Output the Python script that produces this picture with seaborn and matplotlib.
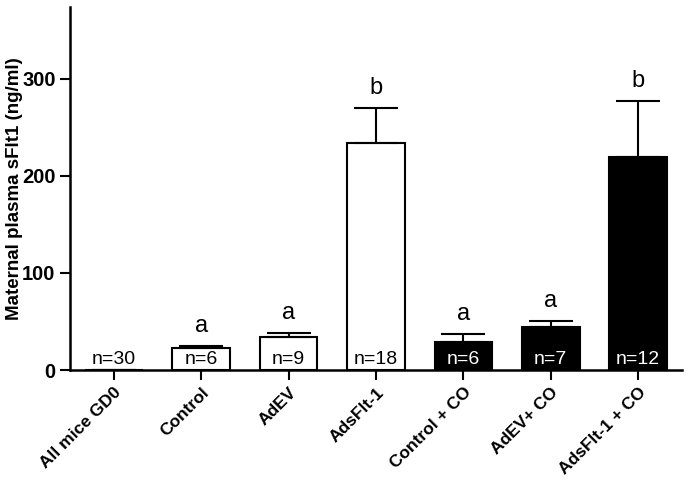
import numpy as np
import pandas as pd
from matplotlib import pyplot as plt
import seaborn as sns

groups = ['All mice GD0', 'Control', 'AdEV', 'AdsFlt-1',
          'Control + CO', 'AdEV+ CO', 'AdsFlt-1 + CO']
means = [0.5, 22.5, 34, 234, 29, 44, 219]
sems = [0, 2.5, 4, 36, 8, 7, 58]
nLabels = ['n=30', 'n=6', 'n=9', 'n=18', 'n=6', 'n=7', 'n=12']
letters = ['', 'a', 'a', 'b', 'a', 'a', 'b']
fills = ['white', 'white', 'white', 'white', 'black', 'black', 'black']

sns.set_style('ticks')
plt.rcParams['font.family'] = ['Liberation Sans', 'DejaVu Sans']
plt.rcParams['text.color'] = 'black'
plt.rcParams['axes.labelcolor'] = 'black'
plt.rcParams['xtick.color'] = 'black'
plt.rcParams['ytick.color'] = 'black'
plt.rcParams['axes.edgecolor'] = 'black'

df = pd.DataFrame({'group': groups, 'mean': means})
fig = plt.figure(figsize=(6.88, 4.87), dpi=100)
ax = fig.add_axes([0.102, 0.24, 0.889, 0.746])

sns.barplot(data=df, x='group', y='mean', hue='group', palette=fills,
            edgecolor='black', linewidth=1.5, width=0.66, legend=False, ax=ax)

##----------------------------------------------------------------------------##
## upper error bars + annotations
##----------------------------------------------------------------------------##
xs = np.arange(len(groups))
upper = np.array(sems)
ax.errorbar(xs, means, yerr=[np.zeros(len(xs)), upper], fmt='none',
            ecolor='black', elinewidth=1.5, capsize=16, capthick=1.5, zorder=1)

for i in range(len(groups)):
    txtColor = 'white' if fills[i] == 'black' else 'black'
    ax.text(xs[i], 2, nLabels[i], ha='center', va='bottom', fontsize=14,
            color=txtColor)
    if letters[i]:
        ax.text(xs[i], means[i] + sems[i] + 9, letters[i], ha='center',
                va='bottom', fontsize=17)

ax.set_xlim(-0.5, 6.5)
ax.set_ylim(0, 374)
ax.set_yticks([0, 100, 200, 300])
ax.set_xlabel('')
ax.set_ylabel('Maternal plasma sFlt1 (ng/ml)', fontsize=13.5, fontweight='bold')
ax.yaxis.set_label_coords(-0.077, 0.5)
ax.tick_params(axis='y', labelsize=14.5, width=1.5, length=7)
ax.tick_params(axis='x', labelsize=12.5, width=1.5, length=7)
for lab in ax.get_yticklabels():
    lab.set_fontweight('bold')
plt.setp(ax.get_xticklabels(), rotation=45, ha='right', rotation_mode='anchor',
         fontweight='bold')
for s in ['left', 'bottom']:
    ax.spines[s].set_linewidth(1.8)
sns.despine(ax=ax)

fig.savefig('out.png', dpi=100)
